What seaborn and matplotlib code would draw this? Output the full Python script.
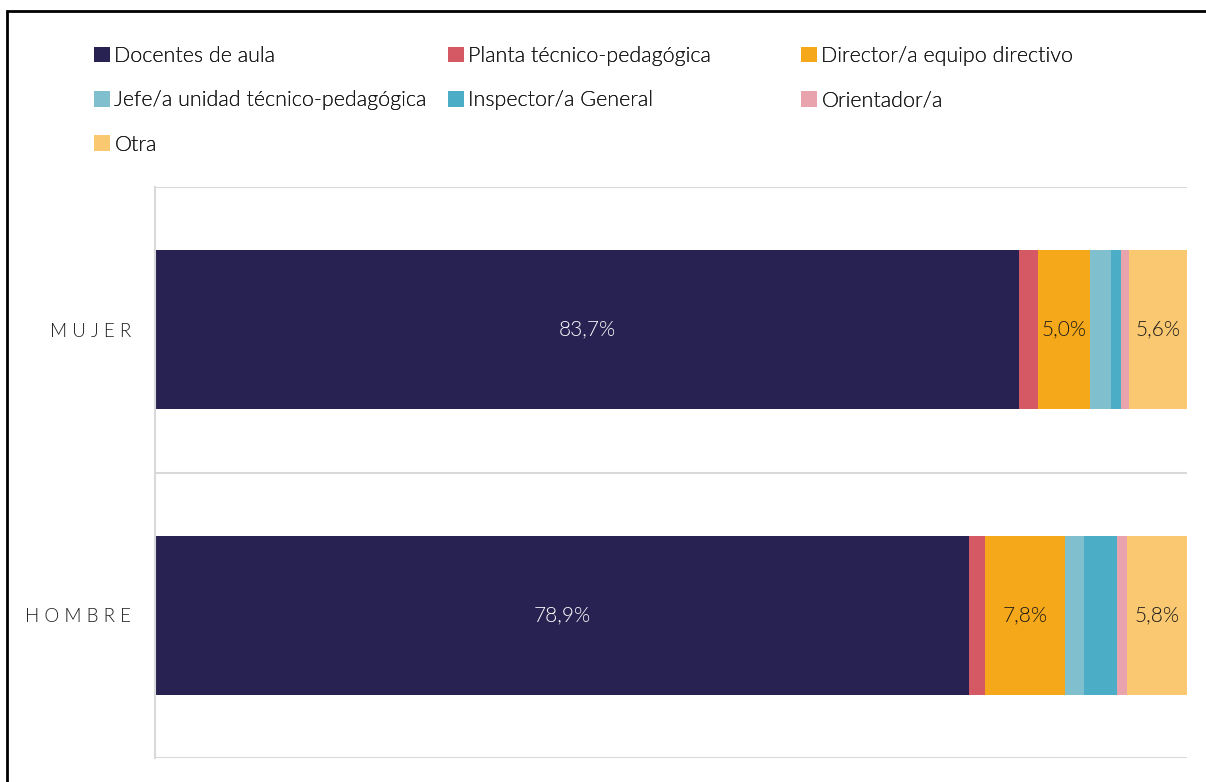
import matplotlib
matplotlib.use("Agg")
import matplotlib.pyplot as plt
import seaborn as sns
import pandas as pd
import numpy as np
from matplotlib.patches import Patch, Rectangle

categories = ["MUJER", "HOMBRE"]
series = ["Docentes de aula", "Planta técnico-pedagógica", "Director/a equipo directivo",
          "Jefe/a unidad técnico-pedagógica", "Inspector/a General", "Orientador/a", "Otra"]
docentes = [83.7, 78.9]
planta = [1.9, 1.5]
director = [5.0, 7.8]
jefe = [2.0, 1.8]
inspector = [1.0, 3.2]
orientador = [0.8, 1.0]
otra = [5.6, 5.8]
colors = ["#282252", "#D55865", "#F5A81A", "#80C0CE", "#4BAEC6", "#E9A3AC", "#F9C870"]

values = [docentes, planta, director, jefe, inspector, orientador, otra]

sns.set_theme(style="white")
plt.rcParams['font.family'] = ['Lato', 'DejaVu Sans']
W = 300

fig = plt.figure(figsize=(12.06, 7.82), dpi=100)
ax = fig.add_axes([155/1206, 1-758/782, (1187-155)/1206, (758-187)/782])

cums = np.cumsum(np.array(values), axis=0)
for i in range(len(series) - 1, -1, -1):
    d = pd.DataFrame({"cat": categories, "val": cums[i]})
    sns.barplot(data=d, x="val", y="cat", orient="h", color=colors[i], ax=ax,
                width=0.557, saturation=1, edgecolor="none", linewidth=0)

# labels
for i, vals in enumerate(values):
    for j, v in enumerate(vals):
        if v >= 5:
            start = cums[i][j] - v
            c = "white" if i == 0 else "#1a1a1a"
            ax.text(start + v/2, j, f"{v:.1f}%".replace(".", ","), ha="center", va="center",
                    fontsize=15, color=c, fontweight=W, zorder=10)

ax.set_xlim(0, 100)
ax.set_ylim(1.5, -0.5)
ax.set_xlabel("")
ax.set_ylabel("")
ax.set_xticks([])
ax.set_yticks([0, 1])
ax.set_yticklabels(["M U J E R", "H O M B R E"], fontsize=13.5, color="#1a1a1a", fontweight=W)
ax.tick_params(axis="y", length=0, pad=17)
for y in [-0.5, 0.5, 1.5]:
    ax.axhline(y, color="#d9d9d9", lw=1.5, zorder=0)
for s in ["top", "right", "bottom"]:
    ax.spines[s].set_visible(False)
ax.spines["left"].set_color("#d9d9d9")
ax.spines["left"].set_linewidth(1.5)

# legends in three columns
cols_idx = [[0, 3, 6], [1, 4], [2, 5]]
xs = [94, 448, 801]
for k, idxs in enumerate(cols_idx):
    handles = [Patch(facecolor=colors[i], edgecolor="none", label=series[i]) for i in idxs]
    leg = fig.legend(handles=handles, loc="upper left",
                     bbox_to_anchor=(xs[k]/1206, 1-46/782), frameon=False,
                     prop={"size": 15.5, "weight": W}, handlelength=0.75, handleheight=0.75,
                     handletextpad=0.2, labelspacing=1.13, borderaxespad=0, borderpad=0)
    for t in leg.get_texts():
        t.set_color("#1a1a1a")
    fig.add_artist(leg)

# outer border
fig.add_artist(Rectangle((7/1206, -0.05), 1.2, 1-11/782+0.05, transform=fig.transFigure,
                         fill=False, edgecolor="black", lw=2))

fig.savefig("out.png", dpi=100)
